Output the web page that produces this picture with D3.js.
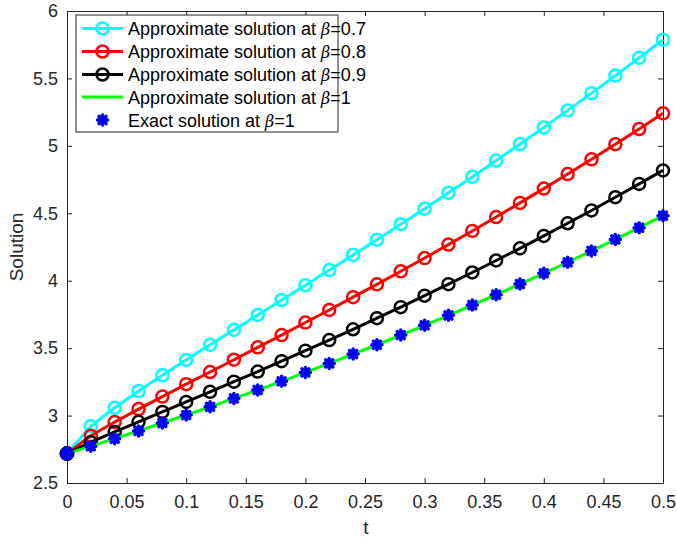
<!DOCTYPE html>
<html lang="en">
<head>
<meta charset="utf-8">
<title>Solution vs t</title>
<script src="https://cdnjs.cloudflare.com/ajax/libs/d3/7.8.5/d3.min.js"></script>
<style>
  body { margin: 0; background: #fff; }
  svg { font-family: Arial, "Liberation Sans", Helvetica, sans-serif; }
</style>
</head>
<body>
<script>
// data
const tValues = [0, 0.02, 0.04, 0.06, 0.08, 0.10, 0.12, 0.14, 0.16, 0.18, 0.20, 0.22, 0.24,
                 0.26, 0.28, 0.30, 0.32, 0.34, 0.36, 0.38, 0.40, 0.42, 0.44, 0.46, 0.48, 0.50];
const beta07 = [2.718, 2.921, 3.058, 3.182, 3.299, 3.413, 3.525, 3.636, 3.746, 3.857, 3.967, 4.079, 4.191,
                4.304, 4.419, 4.534, 4.652, 4.770, 4.891, 5.013, 5.137, 5.263, 5.391, 5.521, 5.653, 5.787];
const beta08 = [2.718, 2.850, 2.952, 3.048, 3.141, 3.233, 3.323, 3.414, 3.506, 3.597, 3.690, 3.783, 3.878,
                3.973, 4.070, 4.168, 4.268, 4.369, 4.472, 4.577, 4.683, 4.791, 4.900, 5.012, 5.125, 5.241];
const beta09 = [2.718, 2.803, 2.879, 2.954, 3.027, 3.101, 3.176, 3.251, 3.326, 3.403, 3.481, 3.560, 3.640,
                3.722, 3.804, 3.889, 3.974, 4.061, 4.150, 4.240, 4.332, 4.426, 4.521, 4.619, 4.718, 4.818];
const beta1  = [2.718, 2.773, 2.829, 2.886, 2.945, 3.004, 3.065, 3.127, 3.190, 3.254, 3.320, 3.387, 3.456,
                3.525, 3.597, 3.669, 3.743, 3.819, 3.896, 3.975, 4.055, 4.137, 4.221, 4.306, 4.393, 4.482];
const exact1 = [2.718, 2.773, 2.829, 2.886, 2.945, 3.004, 3.065, 3.127, 3.190, 3.254, 3.320, 3.387, 3.456,
                3.525, 3.597, 3.669, 3.743, 3.819, 3.896, 3.975, 4.055, 4.137, 4.221, 4.306, 4.393, 4.482];
const xTicks = [0, 0.05, 0.1, 0.15, 0.2, 0.25, 0.3, 0.35, 0.4, 0.45, 0.5];
const yTicks = [2.5, 3, 3.5, 4, 4.5, 5, 5.5, 6];

const series = [
  { label: "0.7", color: "#00ffff", values: beta07, marker: true },
  { label: "0.8", color: "#ff0000", values: beta08, marker: true },
  { label: "0.9", color: "#000000", values: beta09, marker: true },
  { label: "1",   color: "#00ff00", values: beta1,  marker: false }
];

const W = 677, H = 541;
const m = { left: 67, right: 14, top: 11, bottom: 58 };
const pw = W - m.left - m.right, ph = H - m.top - m.bottom;

const svg = d3.select("body").append("svg").attr("width", W).attr("height", H);
const g = svg.append("g").attr("transform", `translate(${m.left},${m.top})`);

const x = d3.scaleLinear().domain([0, 0.5]).range([0, pw]);
const y = d3.scaleLinear().domain([2.5, 6]).range([ph, 0]);

const axisColor = "#262626";

// axes with inward ticks, box on
function styleAxis(sel) {
  sel.select(".domain").attr("stroke", axisColor).attr("stroke-width", 1);
  sel.selectAll(".tick line").attr("stroke", axisColor);
  sel.selectAll(".tick text").attr("fill", axisColor).style("font-size", "18px").style("font-family", "Arial, 'Liberation Sans', sans-serif");
}
g.append("g").attr("transform", `translate(0,${ph})`)
  .call(d3.axisBottom(x).tickValues(xTicks).tickFormat(d3.format("")).tickSizeInner(-5).tickSizeOuter(0).tickPadding(12))
  .call(styleAxis);
g.append("g")
  .call(d3.axisLeft(y).tickValues(yTicks).tickFormat(d3.format("")).tickSizeInner(-5).tickSizeOuter(0).tickPadding(9))
  .call(styleAxis);
g.append("g")
  .call(d3.axisTop(x).tickValues(xTicks).tickFormat("").tickSizeInner(-5).tickSizeOuter(0))
  .call(styleAxis);
g.append("g").attr("transform", `translate(${pw},0)`)
  .call(d3.axisRight(y).tickValues(yTicks).tickFormat("").tickSizeInner(-5).tickSizeOuter(0))
  .call(styleAxis);

// axis labels
svg.append("text").attr("x", m.left + pw / 2 + 1).attr("y", 534).attr("text-anchor", "middle")
  .attr("fill", axisColor).style("font-size", "19px").text("t");
svg.append("text").attr("transform", `translate(23,${m.top + ph / 2}) rotate(-90)`).attr("text-anchor", "middle")
  .attr("fill", axisColor).style("font-size", "19px").text("Solution");

const plot = g.append("g");
const line = d3.line().x((d, i) => x(tValues[i])).y(d => y(d));

series.forEach(s => {
  plot.append("path").datum(s.values).attr("d", line)
    .attr("fill", "none").attr("stroke", s.color).attr("stroke-width", 3).attr("stroke-linejoin", "round");
  if (s.marker) {
    plot.selectAll(null).data(s.values).enter().append("circle")
      .attr("cx", (d, i) => x(tValues[i])).attr("cy", d => y(d)).attr("r", 6)
      .attr("fill", "none").attr("stroke", s.color).attr("stroke-width", 2.5);
  }
});

// asterisk marker for the exact solution
function star(r) {
  const k = r * Math.SQRT1_2;
  return `M${-r},0L${r},0M0,${-r}L0,${r}M${-k},${-k}L${k},${k}M${-k},${k}L${k},${-k}`;
}
plot.selectAll(null).data(exact1).enter().append("path")
  .attr("transform", (d, i) => `translate(${x(tValues[i])},${y(d)})`)
  .attr("d", star(5)).attr("fill", "none").attr("stroke", "#0000ff").attr("stroke-width", 3.5).attr("stroke-linecap", "round");
// initial point
plot.append("circle").attr("cx", x(tValues[0])).attr("cy", y(exact1[0])).attr("r", 7)
  .attr("fill", "#0000ff").attr("stroke", "#00005a").attr("stroke-width", 1);

// legend
const lg = svg.append("g").attr("transform", "translate(76,15)");
lg.append("rect").attr("width", 262).attr("height", 117).attr("fill", "#fff")
  .attr("stroke", axisColor).attr("stroke-width", 1);
const rowY = [13.5, 36.5, 59.5, 82, 105];
const legendRows = series.map(s => ({ kind: "line", s, prefix: "Approximate solution at ", beta: s.label }))
  .concat([{ kind: "exact", prefix: "Exact solution at ", beta: "1" }]);
legendRows.forEach((r, i) => {
  const ry = rowY[i];
  if (r.kind === "line") {
    lg.append("line").attr("x1", 6).attr("x2", 47).attr("y1", ry).attr("y2", ry)
      .attr("stroke", r.s.color).attr("stroke-width", 3);
    if (r.s.marker) lg.append("circle").attr("cx", 26.5).attr("cy", ry).attr("r", 6)
      .attr("fill", "none").attr("stroke", r.s.color).attr("stroke-width", 2.5);
  } else {
    lg.append("path").attr("transform", `translate(26.5,${ry})`).attr("d", star(5))
      .attr("fill", "none").attr("stroke", "#0000ff").attr("stroke-width", 3.5).attr("stroke-linecap", "round");
  }
  const t = lg.append("text").attr("x", 52).attr("y", ry + 6.5).style("font-size", "18px").attr("fill", "#000");
  t.append("tspan").text(r.prefix);
  t.append("tspan").style("font-style", "italic").style("font-family", "'DejaVu Serif', serif").style("font-size", "16px").text("β");
  t.append("tspan").text("=" + r.beta);
});
</script>
</body>
</html>
